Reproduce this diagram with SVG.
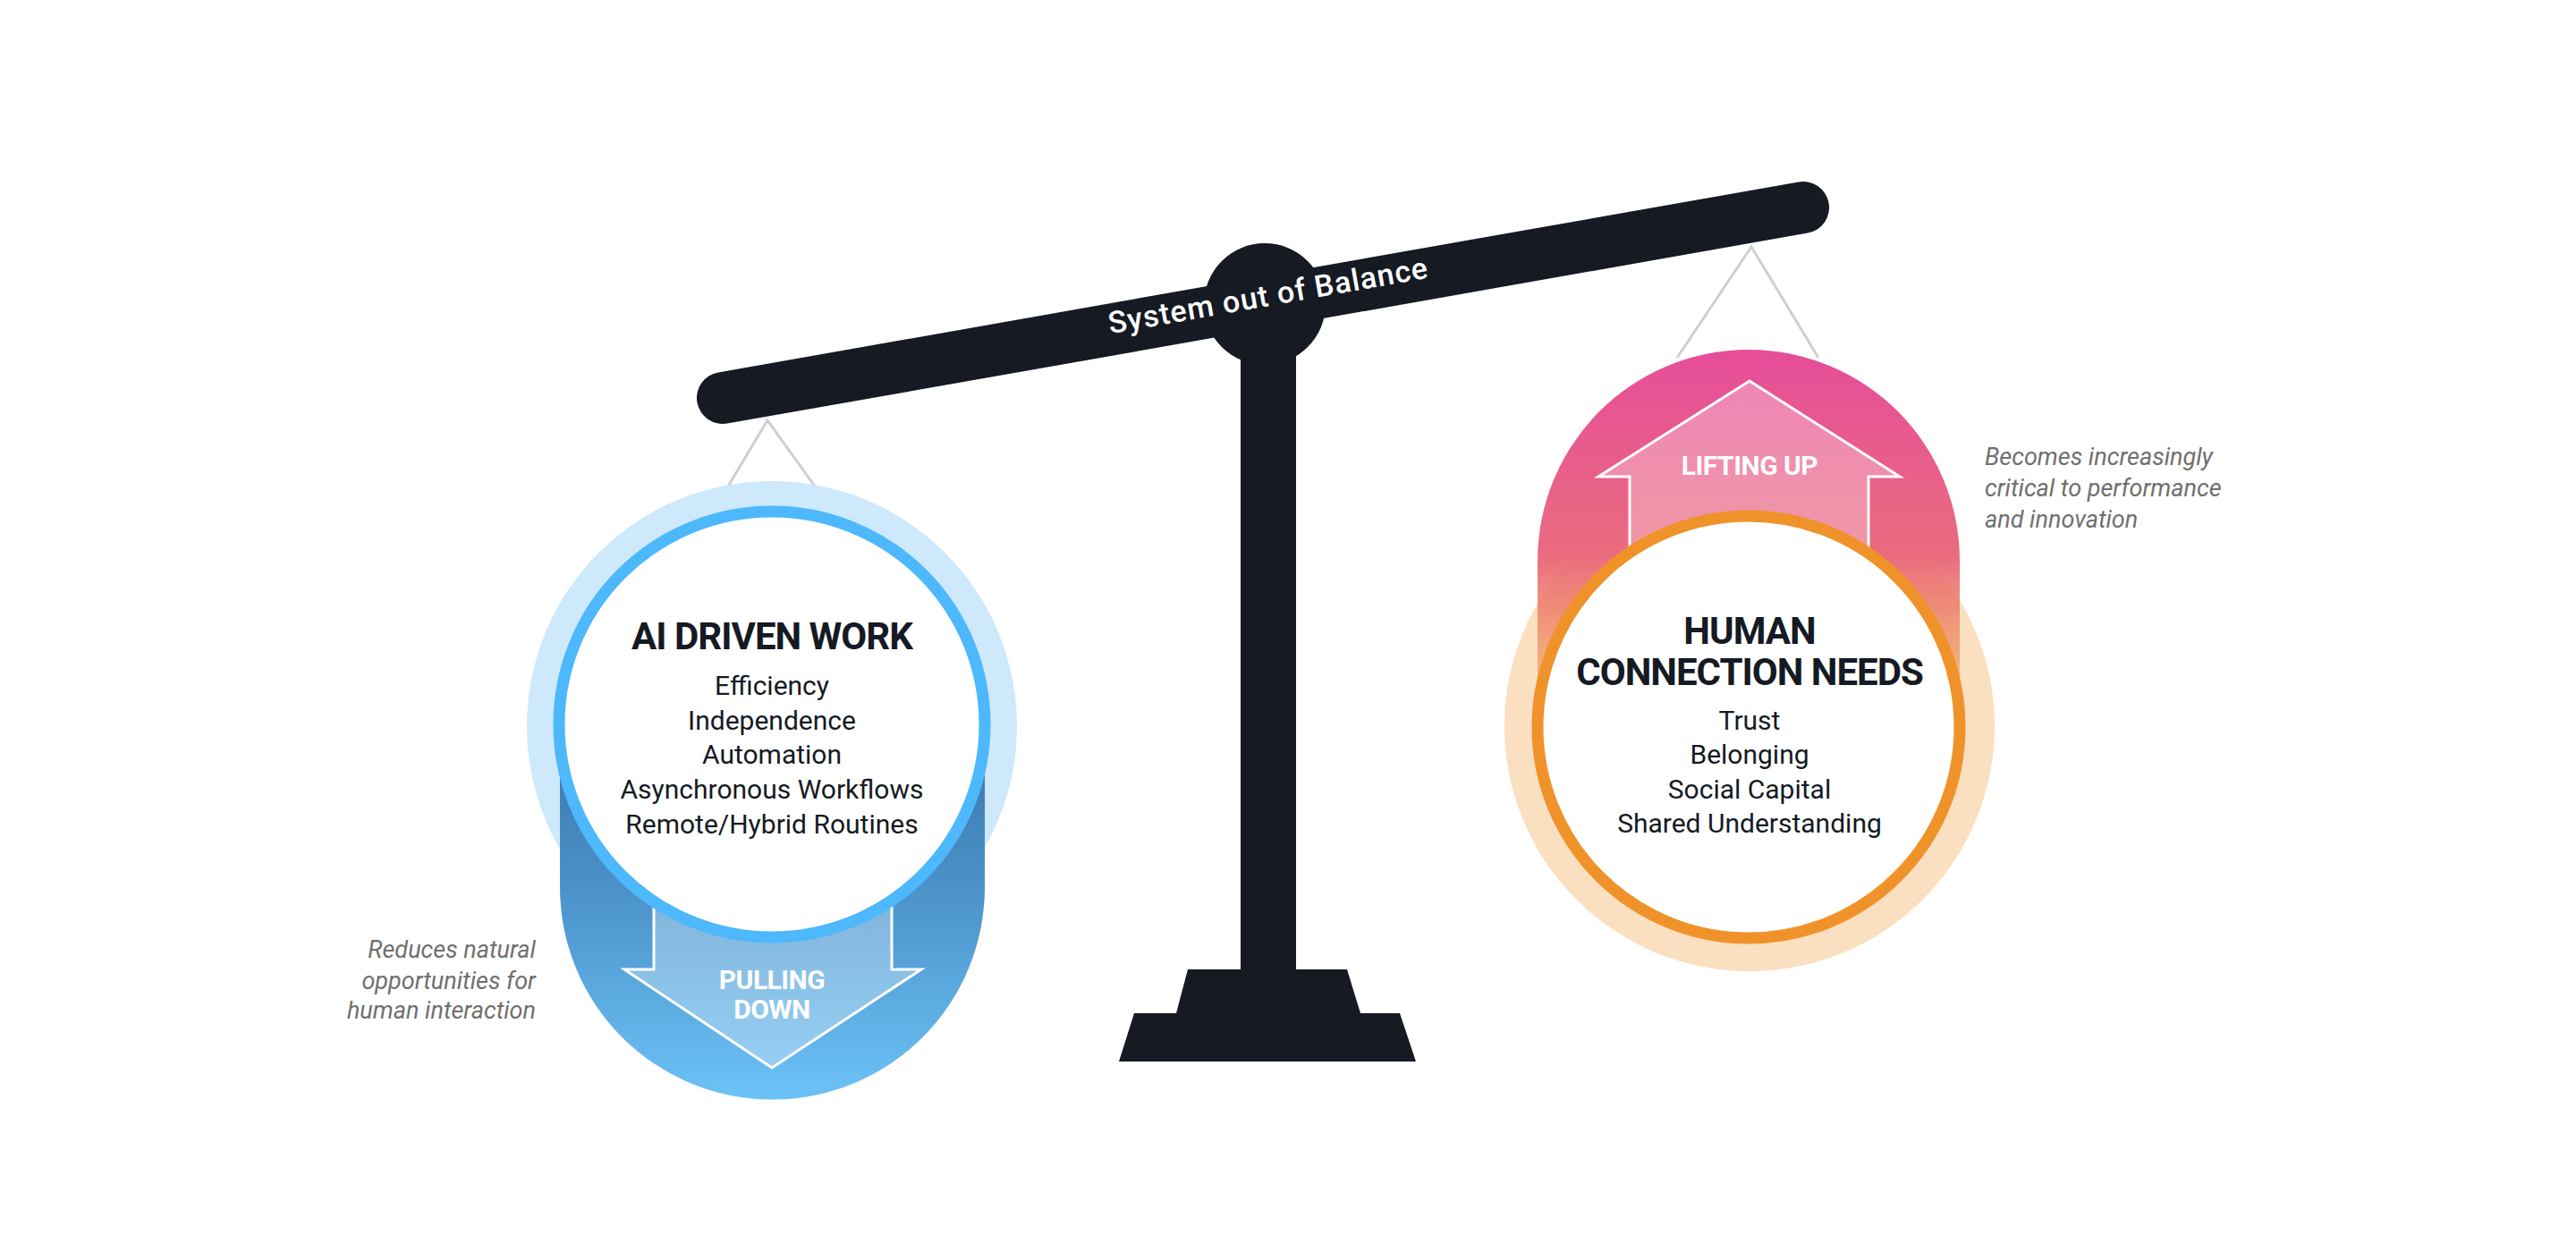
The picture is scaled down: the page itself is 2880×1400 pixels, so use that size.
<svg xmlns="http://www.w3.org/2000/svg" width="2880" height="1400" viewBox="0 0 2880 1400">
<defs>
<linearGradient id="gBlue" x1="0" y1="0" x2="0" y2="1">
<stop offset="0" stop-color="#3a78ab"/><stop offset="0.45" stop-color="#4d95cc"/><stop offset="1" stop-color="#6cc2f7"/>
</linearGradient>
<linearGradient id="gPink" x1="0" y1="0" x2="0" y2="1">
<stop offset="0" stop-color="#e64d9a"/><stop offset="0.55" stop-color="#ea6c7e"/><stop offset="1" stop-color="#f0922a" stop-opacity="0.3"/>
</linearGradient>
<style>
.f{font-family:Roboto,"Liberation Sans",sans-serif}
.t{font-size:42px;font-weight:700;fill:#151a23;text-anchor:middle;letter-spacing:-1px}
.i{font-size:30px;fill:#151a23;text-anchor:middle}
.a{font-size:30px;font-weight:700;fill:#fff;text-anchor:middle;letter-spacing:-0.5px}
.n{font-size:27px;font-style:italic;fill:#6f6f6f}
.arr{fill:#ffffff;fill-opacity:0.3;stroke:#fff;stroke-width:3}
.str{stroke:#cfcfcf;stroke-width:3;fill:none}
</style>
</defs>
<rect width="2880" height="1400" fill="#fff"/>
<g id="connectors">
<path class="str" d="M790 584 L858 470 L940 584"/>
<path class="str" d="M1875 400 L1958 276 L2033 400"/>
</g>
<g id="scale">
<path fill="#151a23" d="M1328 1084 H1506 L1521 1133 H1565 L1583 1187 H1251 L1268 1133 H1315 Z"/>
<rect x="1387" y="360" width="62" height="730" fill="#151a23"/>
<line x1="808" y1="445" x2="2016" y2="232" stroke="#151a23" stroke-width="58" stroke-linecap="round"/>
<circle cx="1414" cy="340" r="68" fill="#151a23"/>
<text class="f" transform="translate(1418,331) rotate(-10)" y="11" text-anchor="middle" font-size="34" font-weight="500" fill="#fff" letter-spacing="1">System out of Balance</text>
</g>
<g id="ai-driven-work">
<circle cx="863" cy="812" r="274" fill="#cde9fb"/>
<path d="M626 830 H1101 V992 A237.5 237.5 0 0 1 626 992 Z" fill="url(#gBlue)"/>
<path class="arr" d="M731 1007 V1084 H698 L863 1194 L1030 1084 H997 V1007 Z"/>
<circle cx="863" cy="810" r="238" fill="#fff" stroke="#4db8fb" stroke-width="13"/>
<text class="f t" x="863" y="726">AI DRIVEN WORK</text>
<text class="f i" x="863" y="777">Efficiency</text>
<text class="f i" x="863" y="816">Independence</text>
<text class="f i" x="863" y="854">Automation</text>
<text class="f i" x="863" y="893">Asynchronous Workflows</text>
<text class="f i" x="863" y="932">Remote/Hybrid Routines</text>
<text class="f a" x="863" y="1106">PULLING</text>
<text class="f a" x="863" y="1139">DOWN</text>
<text class="f n" text-anchor="end" x="599" y="1071">Reduces natural</text>
<text class="f n" text-anchor="end" x="599" y="1106">opportunities for</text>
<text class="f n" text-anchor="end" x="599" y="1139">human interaction</text>
</g>
<g id="human-connection-needs">
<circle cx="1956" cy="812" r="274" fill="#fadfc0"/>
<path d="M1719 812 V627 A236 236 0 0 1 2191 627 V812 Z" fill="url(#gPink)"/>
<path class="arr" d="M1822 612 V533 H1787 L1956 426 L2124 533 H2089 V612 Z"/>
<circle cx="1955" cy="813" r="236" fill="#fff" stroke="#f0922a" stroke-width="13"/>
<text class="f a" x="1956" y="531">LIFTING UP</text>
<text class="f t" x="1956" y="720">HUMAN</text>
<text class="f t" x="1956" y="766">CONNECTION NEEDS</text>
<text class="f i" x="1956" y="816">Trust</text>
<text class="f i" x="1956" y="854">Belonging</text>
<text class="f i" x="1956" y="893">Social Capital</text>
<text class="f i" x="1956" y="931">Shared Understanding</text>
<text class="f n" x="2219" y="520">Becomes increasingly</text>
<text class="f n" x="2219" y="555">critical to performance</text>
<text class="f n" x="2219" y="590">and innovation</text>
</g>
</svg>
